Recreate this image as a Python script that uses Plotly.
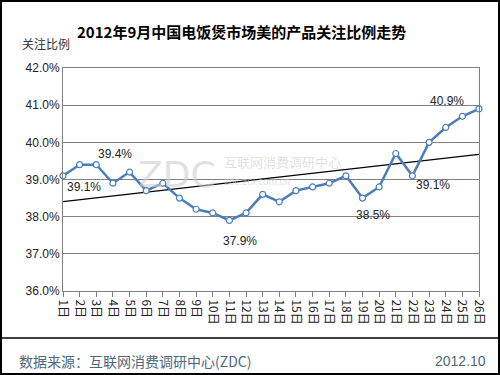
import numpy as np
import plotly.graph_objects as go

# ---- data ----
days = list(range(1, 27))
day_labels = [f"{d}日" for d in days]
values = [39.1, 39.4, 39.4, 38.9, 39.2, 38.7, 38.9, 38.5, 38.2, 38.1, 37.9, 38.1, 38.6,
          38.4, 38.7, 38.8, 38.9, 39.1, 38.5, 38.8, 39.7, 39.1, 40.0, 40.4, 40.7, 40.9]
label_days = [1, 3, 11, 19, 22, 26]
y_ticks = [36, 37, 38, 39, 40, 41, 42]
y_tick_text = [f"{v:.1f}%" for v in y_ticks]

title_text = "2012年9月中国电饭煲市场美的产品关注比例走势"
y_title = "关注比例"
source_text = "数据来源：互联网消费调研中心(ZDC)"
date_text = "2012.10"

# ---- layout geometry ----
W, H = 500, 375
L, R, T, B = 63, 21, 68, 84
PW, PH = W - L - R, H - T - B

def px(x):
    return (x - L) / PW

def py(y):
    return (H - B - y) / PH

# trend line (least squares, as Excel)
coef = np.polyfit(days, values, 1)
trend = np.polyval(coef, days)

LINE = "#4A7EBB"
FONT = "Liberation Sans, Arial, sans-serif"
CJK = "Noto Sans CJK SC, sans-serif"
WM = "rgba(205,205,205,0.6)"

fig = go.Figure()
fig.add_trace(go.Scatter(x=days, y=trend, mode="lines",
                         line=dict(color="black", width=1.2), hoverinfo="skip",
                         cliponaxis=False))
fig.add_trace(go.Scatter(x=days, y=values, mode="lines+markers",
                         line=dict(color=LINE, width=2.5),
                         marker=dict(size=6, color="white", line=dict(color=LINE, width=1.2)),
                         cliponaxis=False))

def paper_text(x, y, text, size, color, family, xanchor="center"):
    return dict(x=px(x), y=py(y), xref="paper", yref="paper", text=text,
                xanchor=xanchor, yanchor="middle", showarrow=False,
                font=dict(family=family, size=size, color=color))

annotations = []
# watermark (drawn first, under the labels)
annotations.append(paper_text(136, 174, "ZDC", 36, WM, "DejaVu Sans", "left"))
annotations.append(paper_text(222, 161, "互联网消费调研中心", 13, WM, CJK, "left"))
annotations.append(paper_text(222, 181, "zdc.zol.com.cn", 10, WM, FONT, "left"))

# data labels
offsets = {1: (21, -11), 3: (19, 11), 11: (11, -21), 19: (10, -17), 22: (21, -9), 26: (-32, 8)}
for d in label_days:
    v = values[d - 1]
    dx, dy = offsets[d]
    annotations.append(dict(x=d, y=v, xref="x", yref="y", text=f"{v:.1f}%",
                            showarrow=False, xshift=dx, yshift=dy,
                            font=dict(family=FONT, size=12, color="#222")))

# titles and footer
annotations.append(paper_text(241, 32, f"<b>{title_text}</b>", 15, "black", CJK))
annotations.append(paper_text(20, 44, y_title, 12, "#333", CJK, "left"))
annotations.append(paper_text(17, 361, source_text, 14, "#4d6878", CJK, "left"))
annotations.append(paper_text(488, 361, date_text, 14, "#4d6878", FONT, "right"))

shapes = [
    dict(type="rect", xref="paper", yref="paper", x0=px(1), x1=px(499), y0=py(374), y1=py(1),
         line=dict(color="black", width=2), layer="above"),
    dict(type="line", xref="paper", yref="paper", x0=px(1), x1=px(499), y0=py(338), y1=py(338),
         line=dict(color="black", width=1.5)),
]

fig.update_layout(
    width=W, height=H, autosize=False,
    margin=dict(l=L, r=R, t=T, b=B),
    paper_bgcolor="white", plot_bgcolor="white",
    showlegend=False,
    annotations=annotations, shapes=shapes,
    xaxis=dict(range=[1, 26], tickvals=days, ticktext=day_labels, tickangle=90,
               showgrid=False, zeroline=False, showline=True, mirror=True,
               linecolor="#808080", linewidth=1, ticks="outside", ticklen=5,
               tickcolor="#808080", tickfont=dict(family=CJK, size=12, color="#222")),
    yaxis=dict(range=[36, 42], tickvals=y_ticks, ticktext=y_tick_text,
               showgrid=True, gridcolor="#808080", gridwidth=1, zeroline=False,
               showline=True, mirror=True, linecolor="#808080", linewidth=1,
               ticks="", tickfont=dict(family=FONT, size=12, color="#222")),
)

fig.write_html("out.html", config={"displayModeBar": False},
               post_script="document.body.style.margin='0';document.body.style.overflow='hidden';")
